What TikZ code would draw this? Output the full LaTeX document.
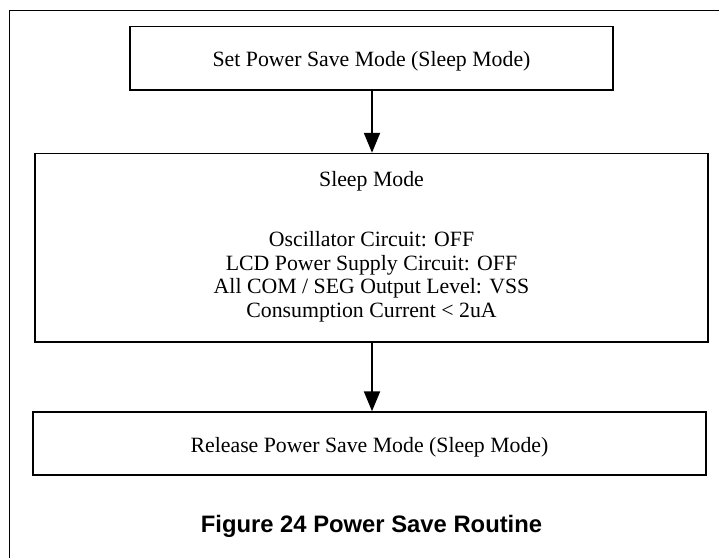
\documentclass[tikz,border=0pt]{standalone}
\usepackage{fontspec}
\setmainfont{Liberation Serif}
\newfontfamily\capfont{Liberation Sans}
\usetikzlibrary{arrows.meta}
\begin{document}
\begin{tikzpicture}[x=1pt,y=-1pt,
  box/.style={draw,line width=1.5pt,rectangle,inner sep=0pt,anchor=center},
  txt/.style={inner sep=0pt,anchor=base,font=\fontsize{21.8}{24}\selectfont},
  flow/.style={line width=2.2pt,-{Triangle[width=16pt,length=20pt]}}]
\useasboundingbox (0,0) rectangle (719,557);
\clip (0,0) rectangle (719,557);
\fill[white] (0,0) rectangle (719,557);
% outer frame (open to right and bottom)
\coordinate (fa) at (9.5,580);
\coordinate (fb) at (9.5,10.5);
\coordinate (fc) at (740,10.5);
\draw[line width=1.3pt] (fa) -- (fb) -- (fc);
% boxes
\node[box,minimum width=483pt,minimum height=63.5pt] (set) at (371.5,58.25) {};
\node[box,minimum width=673pt,minimum height=188.5pt] (sleep) at (371.5,247.75) {};
\node[box,minimum width=673pt,minimum height=63pt] (rel) at (369.5,443.5) {};
% texts
\node[txt] (settxt) at (371.5,66.5) {Set Power Save Mode (Sleep Mode)};
\node[txt] (sleeptitle) at (371.5,186.5) {Sleep Mode};
\node[txt] (l1) at (371.5,246.5) {Oscillator Circuit: OFF};
\node[txt] (l2) at (371.5,270) {LCD Power Supply Circuit: OFF};
\node[txt] (l3) at (371.5,293.5) {All COM / SEG Output Level: VSS};
\node[txt] (l4) at (371.5,317) {Consumption Current < 2uA};
\node[txt] (reltxt) at (369.5,452) {Release Power Save Mode (Sleep Mode)};
\node[inner sep=0pt,anchor=base,font=\capfont\bfseries\fontsize{23.8}{27}\selectfont] (cap) at (371.5,532) {Figure 24 Power Save Routine};
% arrows
\draw[flow] (set.south -| 372,0) -- (sleep.north -| 372,0);
\draw[flow] (sleep.south -| 372,0) -- (rel.north -| 372,0);
\end{tikzpicture}
\end{document}
